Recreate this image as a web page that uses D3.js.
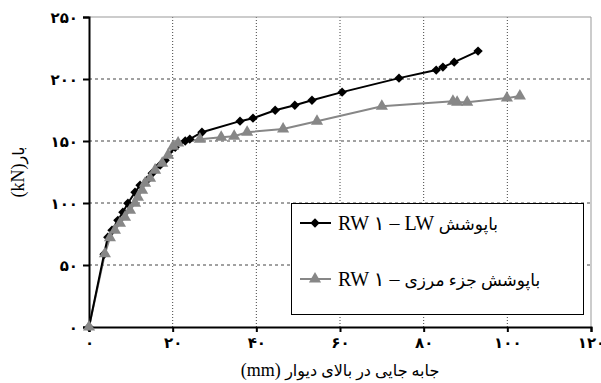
<!DOCTYPE html>
<html>
<head>
<meta charset="utf-8">
<script src="https://cdn.jsdelivr.net/npm/d3@7"></script>
<style>
  html, body { margin: 0; padding: 0; background: #fff; }
  svg { display: block; }
  text { font-family: "Liberation Serif", "DejaVu Sans", serif; fill: #000; }
</style>
</head>
<body>
<svg id="chart" width="601" height="383"></svg>
<script>
// Load–displacement curves for the two wall specimens
const lwDisp = [0, 3.6, 4.5, 5.5, 6.9, 8.1, 9.3, 11.0, 12.2, 13.9, 15.1, 17.0, 18.2, 20.6, 23.0, 24.1, 27.0, 36.1, 39.2, 44.5, 49.2, 53.3, 60.5, 74.1, 83.0, 84.6, 87.3, 93.0];
const lwLoad = [0, 58.7, 72.4, 78, 86, 92.6, 99.8, 108.7, 114.4, 118.4, 124, 130.5, 134.5, 145, 150, 151.5, 157.1, 166, 168.4, 174.8, 178.8, 182.9, 189.4, 200.7, 207.2, 209.6, 213.6, 222.5];

const bdDisp = [0, 3.8, 5.0, 6.2, 7.4, 8.6, 9.8, 11.0, 11.7, 12.7, 13.4, 14.6, 15.8, 17.5, 18.9, 20.1, 21.3, 26.5, 31.6, 34.7, 37.8, 46.4, 54.5, 70.0, 87.0, 88.0, 90.4, 99.9, 103.0];
const bdLoad = [0, 59, 72, 78, 83.7, 88.5, 94.2, 99.8, 104.7, 110.3, 116, 120, 126.5, 132, 138.6, 145.8, 148.3, 151.5, 153.1, 153.9, 157.1, 159.6, 166, 178.1, 182.1, 181.3, 181.3, 184.6, 186.2];

const xTicks = [0, 20, 40, 60, 80, 100, 120];
const yTicks = [0, 50, 100, 150, 200, 250];
// legend labels: Latin part, Persian part
const seriesNames = [["RW ۱ – LW ", "باپوشش"], ["RW ۱ – ", "باپوشش جزء مرزی"]];
const xTitle = ["(mm) ", "جابه جایی در بالای دیوار"];
const yTitle = ["(kN)", "بار"];

const fa = n => String(n).replace(/\d/g, d => "۰۱۲۳۴۵۶۷۸۹"[d]);

const svg = d3.select("#chart");
const m = { left: 89, right: 591, top: 17, bottom: 327 };
const x = d3.scaleLinear().domain([0, 120]).range([m.left, m.right]);
const y = d3.scaleLinear().domain([0, 250]).range([m.bottom, m.top]);

// grid
const grid = svg.append("g");
grid.selectAll(".hg").data(yTicks.filter(v => v > 0 && v < 250)).join("line")
  .attr("x1", m.left).attr("x2", m.right)
  .attr("y1", d => y(d)).attr("y2", d => y(d))
  .attr("stroke", "#444").attr("stroke-width", 1).attr("stroke-dasharray", "3,3");
grid.selectAll(".vg").data(xTicks.filter(v => v > 0 && v < 120)).join("line")
  .attr("x1", d => x(d)).attr("x2", d => x(d))
  .attr("y1", m.top).attr("y2", m.bottom)
  .attr("stroke", "#444").attr("stroke-width", 1).attr("stroke-dasharray", "1,2");
// top & right frame
grid.append("line").attr("x1", m.left).attr("x2", m.right).attr("y1", y(250)).attr("y2", y(250))
  .attr("stroke", "#999").attr("stroke-width", 1);
grid.append("line").attr("x1", x(120)).attr("x2", x(120)).attr("y1", m.top).attr("y2", m.bottom)
  .attr("stroke", "#999").attr("stroke-width", 1);

// axes
const xAxis = d3.axisBottom(x).tickValues(xTicks).tickSize(5).tickPadding(5).tickFormat(fa);
const yAxis = d3.axisLeft(y).tickValues(yTicks).tickSize(6).tickPadding(5).tickFormat(fa);
const gx = svg.append("g").attr("transform", `translate(0,${m.bottom})`).call(xAxis);
const gy = svg.append("g").attr("transform", `translate(${m.left},0)`).call(yAxis);
[gx, gy].forEach(g => {
  g.select(".domain").attr("stroke", "#000").attr("stroke-width", 2);
  g.selectAll(".tick line").attr("stroke", "#000").attr("stroke-width", 2);
  g.selectAll(".tick text").attr("font-size", 15).attr("font-weight", "bold")
    .style("font-family", "'DejaVu Sans', sans-serif");
});
gy.selectAll(".tick text").attr("dy", "0.35em");

// series
const line = d3.line().x(d => x(d[0])).y(d => y(d[1]));
const lw = lwDisp.map((d, i) => [d, lwLoad[i]]);
const bd = bdDisp.map((d, i) => [d, bdLoad[i]]);
const diamond = d3.symbol().type(d3.symbolSquare).size(44);
const triangle = d3.symbol().type(d3.symbolTriangle).size(64);
const grey = "#878787";

svg.append("path").datum(bd).attr("d", line).attr("fill", "none").attr("stroke", grey).attr("stroke-width", 2);
svg.append("path").datum(lw).attr("d", line).attr("fill", "none").attr("stroke", "#000").attr("stroke-width", 2);
svg.append("g").selectAll("path").data(lw).join("path")
  .attr("d", diamond).attr("transform", d => `translate(${x(d[0])},${y(d[1])}) rotate(45)`).attr("fill", "#000");
svg.append("g").selectAll("path").data(bd).join("path")
  .attr("d", triangle).attr("transform", d => `translate(${x(d[0])},${y(d[1])})`).attr("fill", grey);

// legend
const lg = svg.append("g");
lg.append("rect").attr("x", 291.5).attr("y", 203.5).attr("width", 292).attr("height", 111)
  .attr("fill", "#fff").attr("stroke", "#000").attr("stroke-width", 1);
const rows = [{ yy: 223, color: "#000", sym: "d" }, { yy: 279, color: grey, sym: "t" }];
rows.forEach((r, i) => {
  lg.append("line").attr("x1", 300).attr("x2", 331).attr("y1", r.yy).attr("y2", r.yy)
    .attr("stroke", r.color).attr("stroke-width", 2);
  lg.append("path").attr("d", r.sym === "d" ? diamond() : triangle())
    .attr("transform", `translate(315,${r.yy})` + (r.sym === "d" ? " rotate(45)" : ""))
    .attr("fill", r.color);
  const t = lg.append("text").attr("x", 338).attr("y", r.yy + 7);
  t.append("tspan").attr("font-size", 20).text(seriesNames[i][0]);
  t.append("tspan").attr("font-size", 17).text(seriesNames[i][1]);
});

// axis titles
const xt = svg.append("text").attr("x", x(60)).attr("y", 376).attr("text-anchor", "middle");
xt.append("tspan").attr("font-size", 18).text(xTitle[0]);
xt.append("tspan").attr("font-size", 16).text(xTitle[1]);
const yt = svg.append("text").attr("transform", `translate(24,${y(125)}) rotate(-90)`).attr("text-anchor", "middle");
yt.append("tspan").attr("font-size", 18).text(yTitle[0]);
yt.append("tspan").attr("font-size", 16).text(yTitle[1]);
</script>
</body>
</html>
